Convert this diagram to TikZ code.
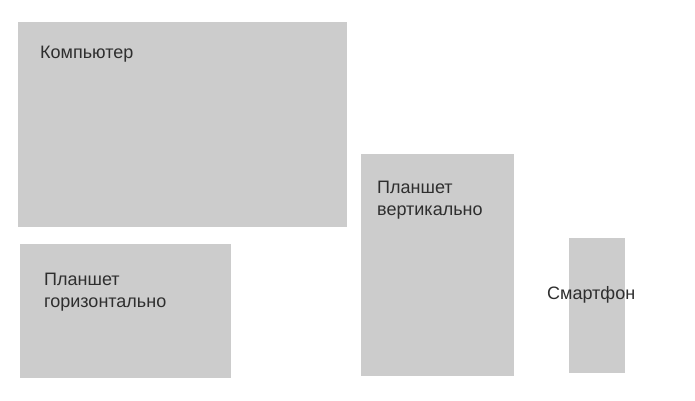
\documentclass[tikz,border=0pt]{standalone}
\usepackage{fontspec}
\setmainfont{Liberation Sans}
\definecolor{screengray}{HTML}{CCCCCC}
\definecolor{textgray}{HTML}{2E2E2E}

\begin{document}
\begin{tikzpicture}[
  x=1pt, y=-1pt,
  every node/.style={font=\fontsize{18}{22}\selectfont, text=textgray},
  device/.style={fill=screengray, draw=none, inner sep=0pt, anchor=north west},
  devname/.style={anchor=base west, inner sep=0pt, align=left}
]
\useasboundingbox (0,0) rectangle (695,400);
% Screens
\node[device, minimum width=329pt, minimum height=205pt] (computer) at (18,22) {};
\node[device, minimum width=211pt, minimum height=134pt] (tablethor) at (20,244) {};
\node[device, minimum width=153pt, minimum height=222pt] (tabletvert) at (361,154) {};
\node[device, minimum width=56pt, minimum height=135pt] (phone) at (569,238) {};
% Names (base = last line)
\node[devname] (computername) at (40,58) {Компьютер};
\node[devname] (tablethorname) at (44,307) {Планшет\\горизонтально};
\node[devname] (tabletvertname) at (377,215) {Планшет\\вертикально};
\node[devname] (phonename) at (547,299) {Смартфон};
\end{tikzpicture}
\end{document}
